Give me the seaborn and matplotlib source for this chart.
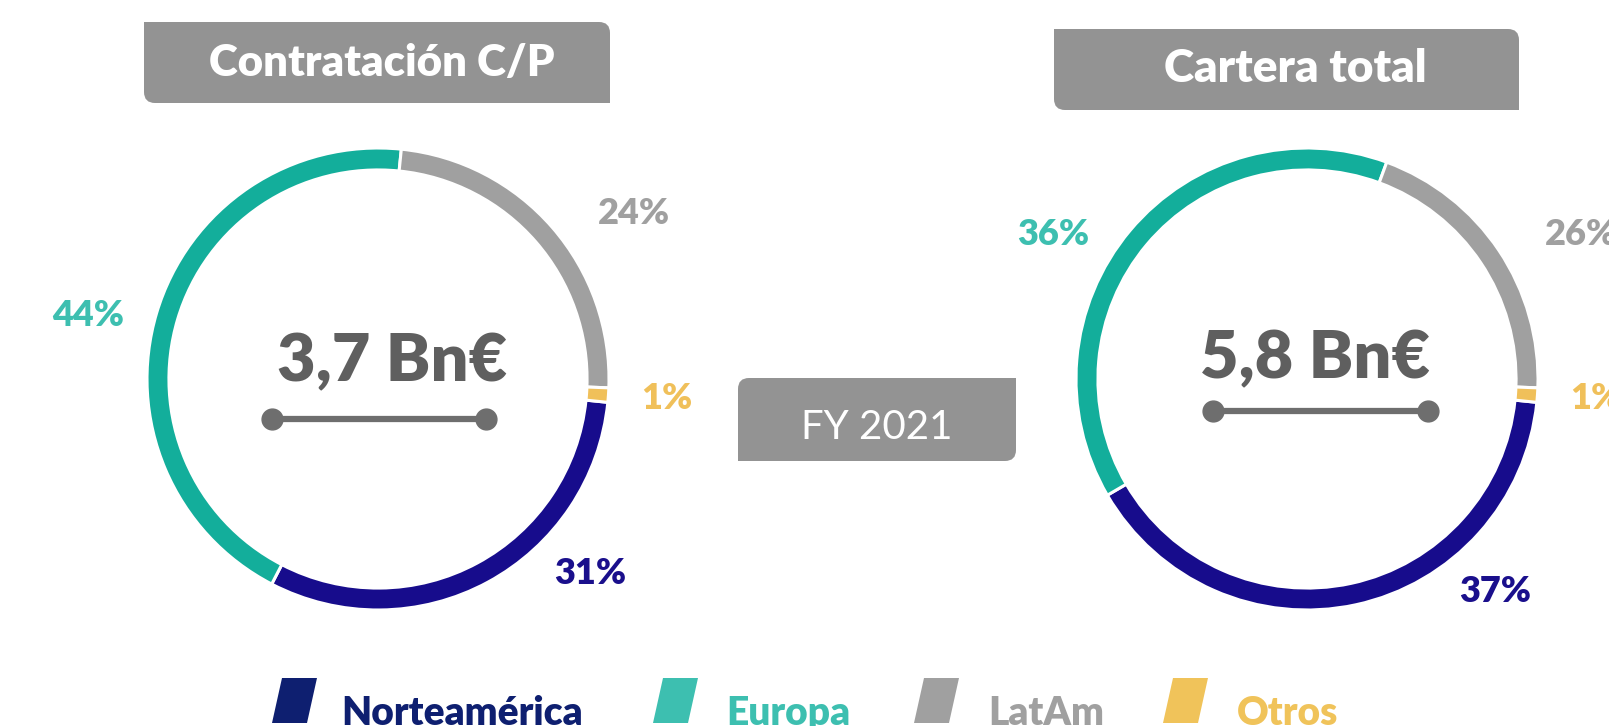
"""
Contratación C/P vs Cartera total, FY 2021 (two donut rings).
Run:  python plot.py  ->  out.png
"""
import matplotlib.pyplot as plt
import seaborn as sns
from matplotlib.patches import PathPatch, Polygon
from matplotlib.path import Path

REGIONS = ["Norteamérica", "Europa", "LatAm", "Otros"]

# Contratación C/P, share by region (%)
CONTRATACION_PCT = [31, 44, 24, 1]

# Cartera total: ring arcs as drawn in the source, and the printed shares
CARTERA_RING = [40, 39, 20, 1]
CARTERA_PCT = [37, 36, 26, 1]

TITLES = ["Contratación C/P", "Cartera total"]
TOTALS = ["3,7 Bn€", "5,8 Bn€"]
PERIOD = "FY 2021"

RING_COLORS = ["#170C8C", "#13AE9B", "#A0A0A0", "#F0C05A"]
LABEL_COLORS = ["#1A0F8C", "#3DBFB0", "#A0A0A0", "#F0C05A"]
LEGEND_COLORS = ["#0E1F70", "#3DBFB0", "#A0A0A0", "#F0C35A"]
BOX_GREY = "#939393"
DARK_GREY = "#5F5F5F"
LINE_GREY = "#6E6E6E"
BOLD = 800

W, H = 1609, 726


def tab_path(x0, y0, x1, y1, r, rounded):
    """Rectangle (pixel coords, y down) with only some corners rounded."""
    verts, codes = [], []
    if "tl" in rounded:
        verts += [(x0, y0 + r), (x0, y0), (x0 + r, y0)]
        codes += [Path.MOVETO, Path.CURVE3, Path.CURVE3]
    else:
        verts += [(x0, y0)]
        codes += [Path.MOVETO]
    if "tr" in rounded:
        verts += [(x1 - r, y0), (x1, y0), (x1, y0 + r)]
        codes += [Path.LINETO, Path.CURVE3, Path.CURVE3]
    else:
        verts += [(x1, y0)]
        codes += [Path.LINETO]
    if "br" in rounded:
        verts += [(x1, y1 - r), (x1, y1), (x1 - r, y1)]
        codes += [Path.LINETO, Path.CURVE3, Path.CURVE3]
    else:
        verts += [(x1, y1)]
        codes += [Path.LINETO]
    if "bl" in rounded:
        verts += [(x0 + r, y1), (x0, y1), (x0, y1 - r)]
        codes += [Path.LINETO, Path.CURVE3, Path.CURVE3]
    else:
        verts += [(x0, y1)]
        codes += [Path.LINETO]
    verts.append(verts[0])
    codes.append(Path.CLOSEPOLY)
    return Path(verts, codes)


def donut(fig, cx, cy, shares, labels, label_xy):
    R = 231
    ax = fig.add_axes([(cx - R) / W, (H - cy - R) / H, 2 * R / W, 2 * R / H])
    ax.pie(
        shares,
        colors=RING_COLORS,
        startangle=-5.8,
        counterclock=False,
        radius=1,
        wedgeprops=dict(width=0.095, edgecolor="white", linewidth=2.2),
    )
    ax.set_xlim(-1, 1)
    ax.set_ylim(-1, 1)
    ax.set_aspect("equal")
    ax.axis("off")
    for txt, (x, y), col in zip(labels, label_xy, LABEL_COLORS):
        ax.text(x, y, txt, color=col, fontsize=26, fontweight=BOLD,
                ha="center", va="center", clip_on=False)
    return ax


def main():
    sns.set_theme(style="white")
    plt.rcParams["font.family"] = ["Lato", "DejaVu Sans"]

    fig = plt.figure(figsize=(W / 100, H / 100), dpi=100)
    bg = fig.add_axes([0, 0, 1, 1])
    bg.set_xlim(0, W)
    bg.set_ylim(H, 0)
    bg.axis("off")

    # title tabs + period tab
    for (x0, y0, x1, y1), rounded, txt, fs, tx, ty, weight in [
        ((144, 22, 610, 103), ("tr", "bl"), TITLES[0], 31.5, 382, 76, BOLD),
        ((1054, 29, 1519, 110), ("tr", "bl"), TITLES[1], 33, 1295, 82, BOLD),
        ((738, 378, 1016, 461), ("tl", "br"), PERIOD, 29, 877, 439, "normal"),
    ]:
        bg.add_patch(PathPatch(tab_path(x0, y0, x1, y1, 11, rounded),
                               facecolor=BOX_GREY, edgecolor="none"))
        bg.text(tx, ty, txt, color="white", fontsize=fs,
                fontweight=weight, ha="center", va="baseline")

    # donuts
    left_labels = [f"{v}%" for v in CONTRATACION_PCT]
    right_labels = [f"{v}%" for v in CARTERA_PCT]
    donut(fig, 378, 379, CONTRATACION_PCT, left_labels,
          [(0.92, -0.84), (-1.255, 0.275), (1.11, 0.715), (1.25, -0.085)])
    donut(fig, 1307, 379, CARTERA_RING, right_labels,
          [(0.815, -0.92), (-1.10, 0.625), (1.185, 0.625), (1.25, -0.085)])

    # totals with the dumbbell underline
    for cx, base, line_y, (lx0, lx1), txt in [
        (392, 381, 419, (272, 486), TOTALS[0]),
        (1315, 378, 411, (1213, 1428), TOTALS[1]),
    ]:
        bg.text(cx, base, txt, color=DARK_GREY, fontsize=48, fontweight=BOLD,
                ha="center", va="baseline")
        bg.plot([lx0, lx1], [line_y, line_y], color=LINE_GREY, lw=4.5,
                marker="o", markersize=15, solid_capstyle="butt")

    # legend with slanted swatches
    for name, col, bx, tx in zip(REGIONS, LEGEND_COLORS,
                                 [272, 653, 914, 1163], [341, 726, 988, 1237]):
        bg.add_patch(Polygon([(bx, 723), (bx + 35, 723), (bx + 45, 678), (bx + 10, 678)],
                             closed=True, facecolor=col, edgecolor="none"))
        bg.text(tx, 725, name, color=col, fontsize=28, fontweight=BOLD,
                ha="left", va="baseline")

    fig.savefig("out.png", dpi=100)
    plt.close(fig)


if __name__ == "__main__":
    main()
